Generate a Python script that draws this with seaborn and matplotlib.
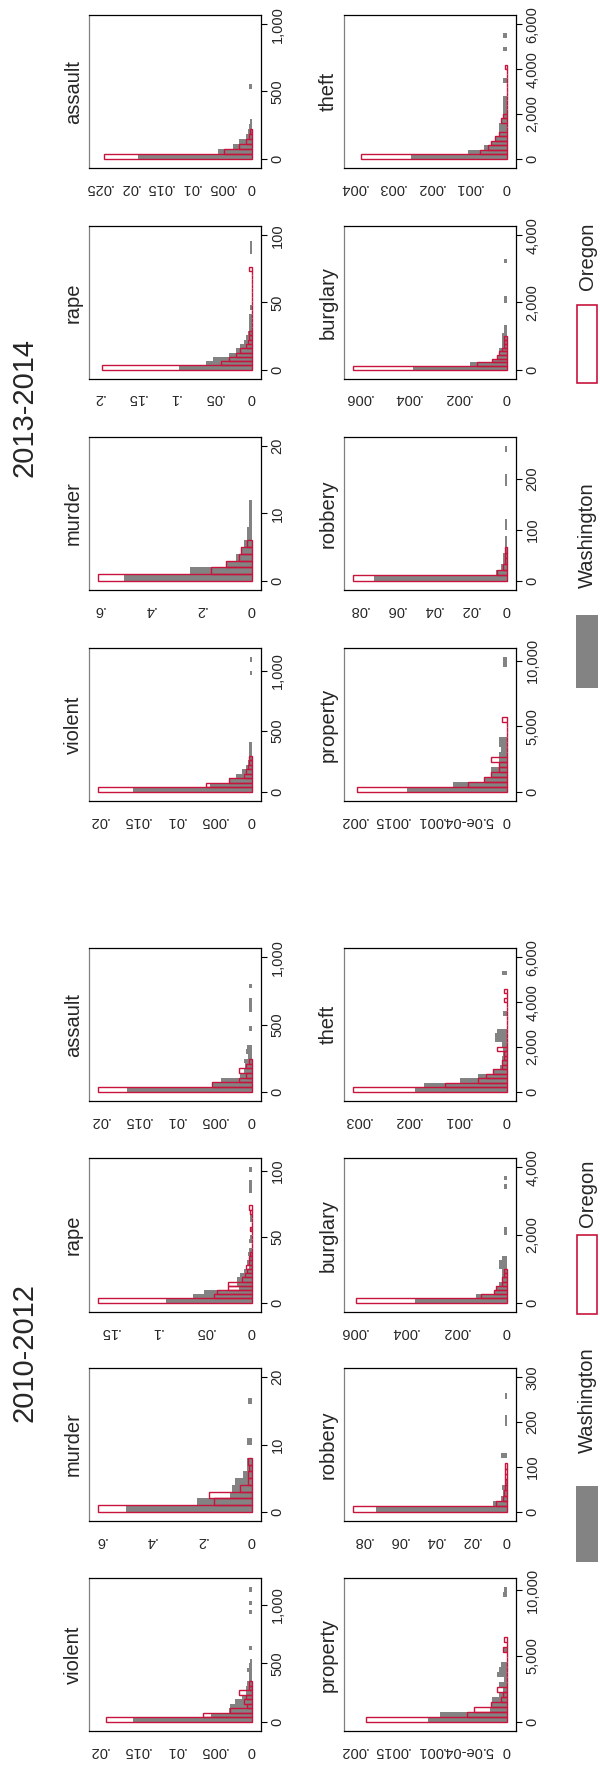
import matplotlib
matplotlib.use('Agg')
import matplotlib.pyplot as plt
from matplotlib.patches import Rectangle
import numpy as np
import pandas as pd
import seaborn as sns

sns.set_style('white')
plt.rcParams['font.family'] = ['Liberation Sans', 'DejaVu Sans']

WA_COLOR = '#838383'
OR_COLOR = '#c8143c'

# ---------------- 2010-2012 : densities per bin (bins start at 0) ----------------
violent_1012_bin = 38.4
violent_1012_wa = [.0155, .0053, .0030, .0028, .0022, .0013, .0008, .0008, .0006, .0004,
                   .0004, .0006, .0004, .0002, 0, 0, .0003, 0, 0, 0,
                   0, 0, 0, 0, .0003, 0, .0003, 0, 0, .0003]
violent_1012_or = [.0190, .0063, .0028, .0006, .0010, .0007, .0017, .0004, .0004]

murder_1012_bin = 1
murder_1012_wa = [.496, .217, .086, .079, .066, .033, .020, .020, 0, 0,
                  .020, 0, 0, 0, 0, 0, .013, 0, 0]
murder_1012_or = [.607, .151, .170, .046, .015, .015, .010, .016]

rape_1012_bin = 3.2
rape_1012_wa = [.090, .062, .050, .013, .015, .015, .012, .008, .003, .005,
                .003, .004, .003, 0, .003, .002, 0, .002, 0, .002,
                .002, 0, 0, 0, 0, 0, .003, .003, .003, 0, 0, .003]
rape_1012_or = [.1615, .040, .037, .0246, .0246, .010, .007, .005, .006, .003,
                .003, .002, 0, 0, 0, 0, 0, .002, 0, 0, 0, .002, .003]

assault_1012_bin = 35
assault_1012_wa = [.0163, .0052, .0040, .0015, .0010, .0009, .0010, .0005, .0007, .0006,
                   0, 0, 0, .0004, 0, 0, 0, .0004, .0004, .0004,
                   0, 0, .0004]
assault_1012_or = [.0201, .0052, .0016, .0007, .0016, .0007, .0004]

property_1012_bin = 378
property_1012_wa = [.00102, .00087, .00022, .00020, .00019, .00010, .00005, .00010, .00004, .00013,
                    .00010, .00008, 0, 0, .00005, 0, 0, 0, 0, 0,
                    0, 0, 0, 0, 0, .00005, .00004]
property_1012_or = [.00183, .00052, .00042, .00020, .00007, .00005, .00013, 0, 0, 0,
                    0, 0, 0, 0, .00005, 0, .00004]

robbery_1012_bin = 12
robbery_1012_wa = [.0726, .0074, .0030, .0020, .0028, .0010, 0, 0, 0, 0,
                   .0030, 0, 0, 0, 0, 0, .0010, .0010, 0, 0, 0, .0012]
robbery_1012_or = [.0852, .0062, .0020, .0015, .0012, .0012, .0012, .0010, .0010]

burglary_1012_bin = 125
burglary_1012_wa = [.0036, .0012, .0005, .0004, .0003, .0002, .0002, .0002, .0003, .0003,
                    .0002, 0, 0, 0, 0, 0, .0001, .0001, 0, 0,
                    0, 0, 0, 0, 0, 0, 0, .0001, 0, .0001]
burglary_1012_or = [.0059, .0010, .0005, .0004, .0002, .0002, .0001, .0001]

theft_1012_bin = 200
theft_1012_wa = [.00185, .00167, .00093, .00057, .00027, .00013, .0001, .0001, .00008, .00008,
                 .0001, .00023, .00023, .0002, 0, 0, 0, .00008, 0, 0,
                 0, 0, 0, 0, 0, 0, .0001]
theft_1012_or = [.00308, .00123, .00057, .00041, .00027, .00010, .0001, .00006, .00006, .0002,
                 0, 0, 0, 0, 0, 0, 0, 0, 0, 0, .00006, 0, .00006]

# ---------------- 2013-2014 ----------------
violent_1314_bin = 37
violent_1314_wa = [.0155, .0055, .0030, .0020, .0012, .0008, .0005, .0004, .0003, .0004,
                   .0003, 0, 0, 0, 0, 0, 0, 0, 0, 0,
                   0, 0, 0, 0, 0, 0, .0002, 0, 0, .0002]
violent_1314_or = [.0200, .0060, .0030, .0010, .0008, .0005, .0003, .0003]

murder_1314_bin = 1
murder_1314_wa = [.50, .24, .10, .06, .04, .03, .02, .02, .01, .01, .01, .01]
murder_1314_or = [.60, .16, .10, .05, .04, .02]

rape_1314_bin = 3.2
rape_1314_wa = [.095, .060, .050, .030, .020, .015, .010, .008, .005, .004,
                .003, .003, .003, 0, .002, 0, 0, 0, 0, 0,
                0, 0, 0, 0, 0, 0, 0, .002, .002, .002]
rape_1314_or = [.195, .040, .030, .020, .015, .008, .005, .004, .003, 0,
                0, 0, 0, 0, 0, 0, 0, 0, 0, 0, 0, 0, 0, .003]

assault_1314_bin = 37
assault_1314_wa = [.0185, .0055, .0030, .0020, .0010, .0006, .0005, .0003, 0, 0,
                   0, 0, 0, 0, .0004]
assault_1314_or = [.0240, .0045, .0020, .0010, .0005, .0003]

property_1314_bin = 380
property_1314_wa = [.0013, .0007, .0003, .0002, .0002, .0001, .0001, .0001, .00008, .0001,
                    .0001, 0, 0, 0, 0, 0, 0, 0, 0, 0,
                    0, 0, 0, 0, 0, .00005, .00005]
property_1314_or = [.00195, .0005, .0003, .0002, .0001, .0001, .0002, 0, 0, 0,
                    0, 0, 0, 0, .00006]

robbery_1314_bin = 11
robbery_1314_wa = [.072, .006, .003, .002, .002, .001, .001, .0008, 0, .0008,
                   .0008, 0, 0, 0, 0, 0, 0, .0008, .0008, 0,
                   0, 0, 0, .0008]
robbery_1314_or = [.083, .005, .002, .001, .001, .001]

burglary_1314_bin = 110
burglary_1314_wa = [.0038, .0015, .0006, .0004, .0003, .0003, .0002, .0002, .0002, .0002,
                    .0001, .0001, 0, 0, 0, 0, 0, 0, .0001, .0001,
                    0, 0, 0, 0, 0, 0, 0, 0, 0, .0001]
burglary_1314_or = [.0062, .0012, .0006, .0004, .0003, .0002, .0001, .0001, .0001]

theft_1314_bin = 200
theft_1314_wa = [.0025, .0010, .0006, .0004, .0003, .0002, .0002, .0002, .00015, .0001,
                 .0001, .0001, .0001, .0001, 0, 0, 0, .0001, 0, 0,
                 0, 0, 0, 0, .0001, 0, 0, .0001]
theft_1314_or = [.0038, .0007, .0005, .0004, .0003, .0002, 0, 0, .00015, .0001,
                 0, 0, 0, 0, 0, 0, 0, 0, 0, 0, .00005]

# ---------------- axis ticks ----------------
violent_vticks = [0, 500, 1000]
murder_vticks = [0, 10, 20]
rape_vticks = [0, 50, 100]
assault_vticks = [0, 500, 1000]
property_vticks = [0, 5000, 10000]
robbery_1012_vticks = [0, 100, 200, 300]
robbery_1314_vticks = [0, 100, 200]
burglary_vticks = [0, 2000, 4000]
theft_vticks = [0, 2000, 4000, 6000]

violent_dticks = ([0, .005, .01, .015, .02], ['0', '.005', '.01', '.015', '.02'])
murder_dticks = ([0, .2, .4, .6], ['0', '.2', '.4', '.6'])
rape_1012_dticks = ([0, .05, .1, .15], ['0', '.05', '.1', '.15'])
rape_1314_dticks = ([0, .05, .1, .15, .2], ['0', '.05', '.1', '.15', '.2'])
assault_1012_dticks = ([0, .005, .01, .015, .02], ['0', '.005', '.01', '.015', '.02'])
assault_1314_dticks = ([0, .005, .01, .015, .02, .025], ['0', '.005', '.01', '.015', '.02', '.025'])
property_dticks = ([0, .0005, .001, .0015, .002], ['0', '5.0e-04', '.001', '.0015', '.002'])
robbery_dticks = ([0, .02, .04, .06, .08], ['0', '.02', '.04', '.06', '.08'])
burglary_dticks = ([0, .002, .004, .006], ['0', '.002', '.004', '.006'])
theft_1012_dticks = ([0, .001, .002, .003], ['0', '.001', '.002', '.003'])
theft_1314_dticks = ([0, .001, .002, .003, .004], ['0', '.001', '.002', '.003', '.004'])

panel_1012 = [
    ('violent', violent_1012_bin, violent_1012_wa, violent_1012_or, violent_vticks, violent_dticks),
    ('murder', murder_1012_bin, murder_1012_wa, murder_1012_or, murder_vticks, murder_dticks),
    ('rape', rape_1012_bin, rape_1012_wa, rape_1012_or, rape_vticks, rape_1012_dticks),
    ('assault', assault_1012_bin, assault_1012_wa, assault_1012_or, assault_vticks, assault_1012_dticks),
    ('property', property_1012_bin, property_1012_wa, property_1012_or, property_vticks, property_dticks),
    ('robbery', robbery_1012_bin, robbery_1012_wa, robbery_1012_or, robbery_1012_vticks, robbery_dticks),
    ('burglary', burglary_1012_bin, burglary_1012_wa, burglary_1012_or, burglary_vticks, burglary_dticks),
    ('theft', theft_1012_bin, theft_1012_wa, theft_1012_or, theft_vticks, theft_1012_dticks),
]
panel_1314 = [
    ('violent', violent_1314_bin, violent_1314_wa, violent_1314_or, violent_vticks, violent_dticks),
    ('murder', murder_1314_bin, murder_1314_wa, murder_1314_or, murder_vticks, murder_dticks),
    ('rape', rape_1314_bin, rape_1314_wa, rape_1314_or, rape_vticks, rape_1314_dticks),
    ('assault', assault_1314_bin, assault_1314_wa, assault_1314_or, assault_vticks, assault_1314_dticks),
    ('property', property_1314_bin, property_1314_wa, property_1314_or, property_vticks, property_dticks),
    ('robbery', robbery_1314_bin, robbery_1314_wa, robbery_1314_or, robbery_1314_vticks, robbery_dticks),
    ('burglary', burglary_1314_bin, burglary_1314_wa, burglary_1314_or, burglary_vticks, burglary_dticks),
    ('theft', theft_1314_bin, theft_1314_wa, theft_1314_or, theft_vticks, theft_1314_dticks),
]

W, H = 600, 1769
fig = plt.figure(figsize=(W / 100, H / 100), dpi=100)
fig.set_facecolor('white')

# overlay in pixel coordinates for titles and legends
over = fig.add_axes([0, 0, 1, 1])
over.set_xlim(0, W)
over.set_ylim(H, 0)
over.axis('off')

COL_X = [89, 344]
BOX_W = 172
ROWS_1012 = [(1578, 1731), (1368, 1521), (1158, 1312), (948, 1101)]
ROWS_1314 = [(648, 801), (437, 590), (226, 379), (15, 168)]


def bins_frame(width, dens):
    centers = (np.arange(len(dens)) + 0.5) * width
    return pd.DataFrame({'value': centers, 'density': np.asarray(dens, dtype=float)})


def draw_hist(ax, name, width, wa, orr, vticks, dticks):
    # one weighted observation per bin centre -> bar height equals the density
    sns.histplot(data=bins_frame(width, wa), y='value', weights='density',
                 binwidth=width, binrange=(0, (len(wa) - 0.01) * width), stat='count',
                 color=WA_COLOR, alpha=1, linewidth=0, ax=ax)
    sns.histplot(data=bins_frame(width, orr), y='value', weights='density',
                 binwidth=width, binrange=(0, (len(orr) - 0.01) * width), stat='count',
                 fill=False, color=OR_COLOR, linewidth=1.0, ax=ax)

    n = max(len(wa), len(orr))
    vtop = max(vticks[-1], n * width)
    vpad = vtop * 9.3 / 134.4
    ax.set_ylim(-vpad, vtop + vpad)
    dvals, dlabels = dticks
    dtop = max(dvals[-1], max(wa), max(orr))
    dpad = dtop * 9.3 / 153.4
    ax.set_xlim(dtop + dpad, -dpad)

    ax.set_xlabel('')
    ax.set_ylabel('')
    ax.yaxis.tick_right()
    ax.set_yticks(vticks)
    ax.set_yticklabels([f'{v:,}' for v in vticks], rotation=90, va='center', fontsize=10.5)
    ax.set_xticks(dvals)
    ax.set_xticklabels(dlabels, rotation=180, fontsize=10.5)
    ax.tick_params(axis='both', length=4, width=0.8, color='black', pad=3, direction='out')
    ax.tick_params(axis='x', pad=5)
    for side in ['right', 'bottom', 'top']:
        ax.spines[side].set_color('black')
        ax.spines[side].set_linewidth(0.9)
    ax.spines['left'].set_color('#808080')
    ax.spines['left'].set_linewidth(0.9)
    ax.text(-0.035, 0.5, name, rotation=90, transform=ax.transAxes,
            ha='right', va='center', fontsize=14.5)


for panel, rows in [(panel_1012, ROWS_1012), (panel_1314, ROWS_1314)]:
    for i, (name, width, wa, orr, vticks, dticks) in enumerate(panel):
        col, row = divmod(i, 4)
        y0, y1 = rows[row]
        x0 = COL_X[col]
        ax = fig.add_axes([x0 / W, 1 - y1 / H, BOX_W / W, (y1 - y0) / H])
        draw_hist(ax, name, width, wa, orr, vticks, dticks)

# panel titles
over.text(25, 1352, '2010-2012', rotation=90, ha='center', va='center', fontsize=21)
over.text(25, 407, '2013-2014', rotation=90, ha='center', va='center', fontsize=21)

# legends
for gray_y, red_y, wa_txt, or_txt in [((1486, 1562), (1235, 1314), 1400, 1193),
                                       ((615, 688), (305, 383), 535, 256)]:
    over.add_patch(Rectangle((576, gray_y[0]), 22, gray_y[1] - gray_y[0],
                             facecolor=WA_COLOR, edgecolor='none'))
    over.add_patch(Rectangle((577, red_y[0]), 20, red_y[1] - red_y[0],
                             facecolor='none', edgecolor=OR_COLOR, linewidth=1.2))
    over.text(587, wa_txt, 'Washington', rotation=90, ha='center', va='center', fontsize=14.5)
    over.text(587, or_txt, 'Oregon', rotation=90, ha='center', va='center', fontsize=14.5)

fig.savefig('out.png', dpi=100)
